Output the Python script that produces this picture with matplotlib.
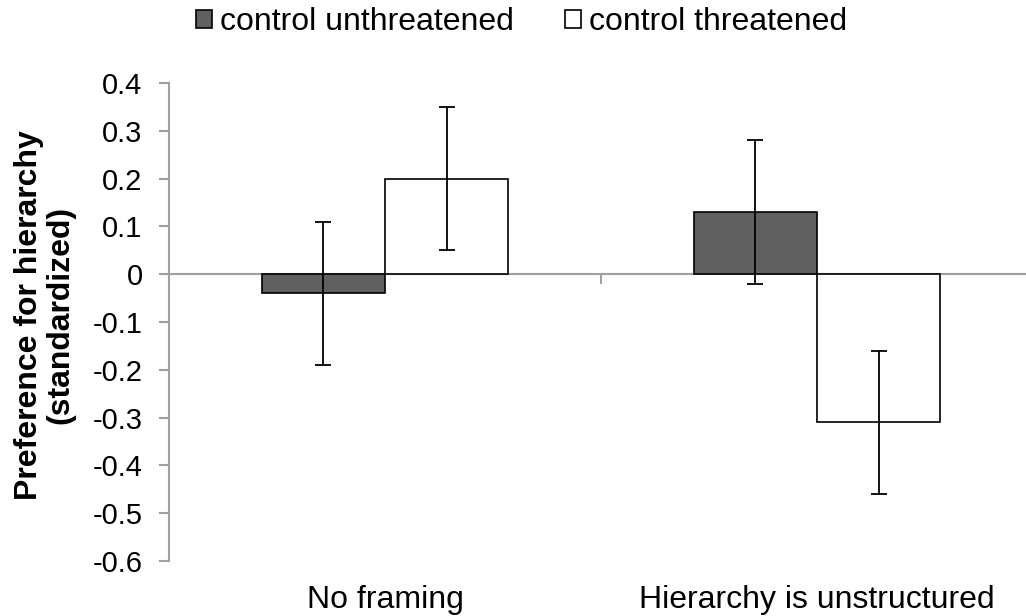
import numpy as np
import matplotlib.pyplot as plt

plt.rcParams['font.family'] = ['Liberation Sans', 'DejaVu Sans']

categories = ["No framing", "Hierarchy is unstructured"]
series_names = ["control unthreatened", "control threatened"]
unthreatened = [-0.04, 0.13]
threatened = [0.20, -0.31]
unthreatened_err = [0.15, 0.15]
threatened_err = [0.15, 0.15]
y_ticks = [0.4, 0.3, 0.2, 0.1, 0, -0.1, -0.2, -0.3, -0.4, -0.5, -0.6]

fig = plt.figure(figsize=(10.26, 6.16), dpi=100)
ax = fig.add_axes([169 / 1026, 1 - 561 / 616, 1 - 169 / 1026, (561 - 83) / 616])

x = np.arange(len(categories))
w = 0.285
err_kw = dict(ecolor='black', elinewidth=1.3, capsize=6, capthick=1.3)
ax.bar(x - w / 2, unthreatened, w, color='#606060', edgecolor='black', linewidth=1.2,
       yerr=unthreatened_err, error_kw=err_kw, label=series_names[0], zorder=2)
ax.bar(x + w / 2, threatened, w, color='white', edgecolor='black', linewidth=1.2,
       yerr=threatened_err, error_kw=err_kw, label=series_names[1], zorder=2)

ax.set_ylim(-0.6, 0.4)
ax.set_xlim(-0.5, 0.5 + (1026 - 601) / 432)
ax.set_yticks(y_ticks)
ax.set_yticklabels([f"{v:g}" for v in y_ticks])

for s in ['top', 'right']:
    ax.spines[s].set_visible(False)
ax.spines['bottom'].set_position(('data', 0))
ax.spines['left'].set_color('#a0a0a0')
ax.spines['bottom'].set_color('#a0a0a0')
ax.spines['left'].set_linewidth(1.5)
ax.spines['bottom'].set_linewidth(1.5)
ax.spines['bottom'].set_zorder(1)

ax.set_xticks([0.5])
ax.set_xticklabels([""])
ax.tick_params(axis='x', direction='out', length=7, width=1.5, color='#a0a0a0')
ax.tick_params(axis='y', direction='out', length=7, width=1.5, color='#a0a0a0',
               labelsize=21, pad=12)

for xi, name in zip(x, categories):
    ax.annotate(name, xy=(xi, 0), xycoords=('data', 'axes fraction'),
                xytext=(0, -28), textcoords='offset points',
                ha='center', va='center', fontsize=23)

fig.text(45 / 1026, 1 - 315 / 616, "Preference for hierarchy\n(standardized)",
         rotation=90, ha='center', va='center', fontsize=23, fontweight='bold',
         linespacing=1.05)

fig.legend(loc='center', bbox_to_anchor=(522 / 1026, 1 - 22 / 616), ncol=2, frameon=False,
           fontsize=23, handlelength=0.5, handleheight=0.5, handletextpad=0.25,
           columnspacing=1.6)

fig.savefig("out.png", dpi=100)
